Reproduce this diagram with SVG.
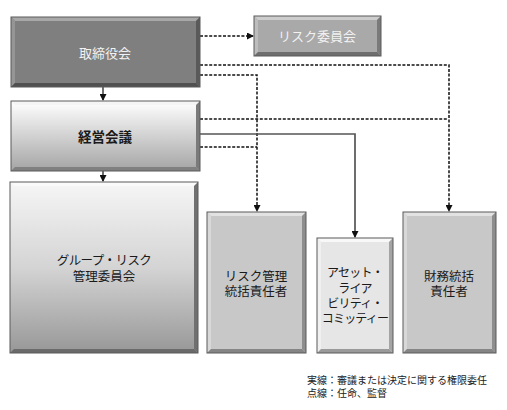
<svg xmlns="http://www.w3.org/2000/svg" width="507" height="410" viewBox="0 0 507 410">
<style>
text{font-family:"Liberation Sans","Noto Sans CJK JP",sans-serif;text-anchor:middle}
.t{font-size:12.5px;fill:#1a1a1a}
.n{font-size:12px;fill:#1a1a1a;letter-spacing:-0.8px}
.w{font-size:13px;fill:#f2f2f2}
.b{font-size:13.5px;fill:#1a1a1a;font-weight:bold}
.leg{font-size:10px;fill:#222;text-anchor:start}
.o{fill:none;stroke:#5a5a5a;stroke-width:1}
.dl{fill:none;stroke:#111;stroke-width:1.5;stroke-dasharray:3 1.6}
.sl{fill:none;stroke:#222;stroke-width:1.3}
.sg{fill:none;stroke:#555;stroke-width:1.7}
</style>
<defs>
<marker id="ah" markerWidth="7" markerHeight="7" refX="6" refY="3.5" orient="auto" markerUnits="userSpaceOnUse">
<path d="M0,0 L7,3.5 L0,7 Z" fill="#111"/>
</marker>
<linearGradient id="g1" x1="0" y1="0" x2="0" y2="1">
<stop offset="0" stop-color="#ffffff"/><stop offset="1" stop-color="#a4a4a4"/>
</linearGradient>
<linearGradient id="g2" x1="0" y1="0" x2="0" y2="1">
<stop offset="0" stop-color="#f6f6f6"/><stop offset="0.5" stop-color="#d4d4d4"/><stop offset="1" stop-color="#979797"/>
</linearGradient>
</defs>

<g id="connectors">
<path class="sl" d="M103,87 V100" marker-end="url(#ah)"/>
<path class="sl" d="M103,171 V181" marker-end="url(#ah)"/>
<path class="dl" d="M200,36 H253" marker-end="url(#ah)"/>
<path class="dl" d="M200,65 H449 V211" marker-end="url(#ah)"/>
<path class="dl" d="M200,75 H257 V211" marker-end="url(#ah)"/>
<path class="dl" d="M200,119 H447"/>
<path class="sg" d="M200,134 H355 V237" marker-end="url(#ah)"/>
<path class="dl" d="M200,147 H257"/>
</g>

<g id="board">
<rect x="11" y="17" width="189" height="70" fill="#7f7f7f"/>
<polygon points="11,17 200,17 196,21 15,21" fill="#a8a8a8"/>
<polygon points="11,17 15,21 15,83 11,87" fill="#959595"/>
<polygon points="200,17 200,87 196,83 196,21" fill="#5a5a5a"/>
<polygon points="11,87 200,87 196,83 15,83" fill="#505050"/>
<rect class="o" x="11" y="17" width="189" height="70"/>
<text class="w" x="105" y="58">取締役会</text>
</g>

<g id="risk-committee">
<rect x="254" y="16" width="127" height="40" fill="#a9a9a9"/>
<polygon points="254,16 381,16 377,20 258,20" fill="#cdcdcd"/>
<polygon points="254,16 258,20 258,52 254,56" fill="#bdbdbd"/>
<polygon points="381,16 381,56 377,52 377,20" fill="#7a7a7a"/>
<polygon points="254,56 381,56 377,52 258,52" fill="#6e6e6e"/>
<rect class="o" x="254" y="16" width="127" height="40"/>
<text class="w" x="317" y="41">リスク委員会</text>
</g>

<g id="management">
<rect x="11" y="101" width="189" height="70" fill="url(#g1)"/>
<polygon points="11,101 200,101 196,105 15,105" fill="#f4f4f4"/>
<polygon points="200,101 200,171 196,167 196,105" fill="#7a7a7a"/>
<polygon points="11,171 200,171 196,167 15,167" fill="#808080"/>
<rect class="o" x="11" y="101" width="189" height="70" stroke="#888"/>
<text class="b" x="105" y="142">経営会議</text>
</g>

<g id="group-risk">
<rect x="10" y="182" width="188" height="171" fill="url(#g2)"/>
<polygon points="10,182 198,182 194,186 14,186" fill="#fafafa"/>
<polygon points="198,182 198,353 194,349 194,186" fill="#707070"/>
<polygon points="10,353 198,353 194,349 14,349" fill="#6a6a6a"/>
<rect class="o" x="10" y="182" width="188" height="171" stroke="#999"/>
<text class="t" x="104" y="265" letter-spacing="-0.6">グループ・リスク</text>
<text class="t" x="104" y="281">管理委員会</text>
</g>

<g id="risk-officer">
<rect x="207" y="212" width="99" height="141" fill="#c8c8c8"/>
<polygon points="207,212 306,212 302,216 211,216" fill="#e2e2e2"/>
<polygon points="207,212 211,216 211,349 207,353" fill="#d8d8d8"/>
<polygon points="306,212 306,353 302,349 302,216" fill="#8e8e8e"/>
<polygon points="207,353 306,353 302,349 211,349" fill="#858585"/>
<rect class="o" x="207" y="212" width="99" height="141" stroke="#444"/>
<text class="t" x="256" y="281">リスク管理</text>
<text class="t" x="256" y="296">統括責任者</text>
</g>

<g id="alm">
<rect x="317" y="238" width="76" height="115" fill="#e6e6e6"/>
<polygon points="317,238 393,238 389,242 321,242" fill="#f8f8f8"/>
<polygon points="317,238 321,242 321,349 317,353" fill="#f0f0f0"/>
<polygon points="393,238 393,353 389,349 389,242" fill="#a4a4a4"/>
<polygon points="317,353 393,353 389,349 321,349" fill="#9a9a9a"/>
<rect class="o" x="317" y="238" width="76" height="115" stroke="#777"/>
<text class="n" x="355" y="277">アセット・</text>
<text class="n" x="355" y="293">ライア</text>
<text class="n" x="355" y="308">ビリティ・</text>
<text class="n" x="355" y="323">コミッティー</text>
</g>

<g id="finance-officer">
<rect x="403" y="212" width="93" height="141" fill="#c8c8c8"/>
<polygon points="403,212 496,212 492,216 407,216" fill="#e2e2e2"/>
<polygon points="403,212 407,216 407,349 403,353" fill="#d8d8d8"/>
<polygon points="496,212 496,353 492,349 492,216" fill="#8e8e8e"/>
<polygon points="403,353 496,353 492,349 407,349" fill="#858585"/>
<rect class="o" x="403" y="212" width="93" height="141" stroke="#444"/>
<text class="t" x="449" y="281">財務統括</text>
<text class="t" x="449" y="296">責任者</text>
</g>

<g id="legend">
<text class="leg" x="307" y="384">実線：審議または決定に関する権限委任</text>
<text class="leg" x="307" y="397">点線：任命、監督</text>
</g>
</svg>
